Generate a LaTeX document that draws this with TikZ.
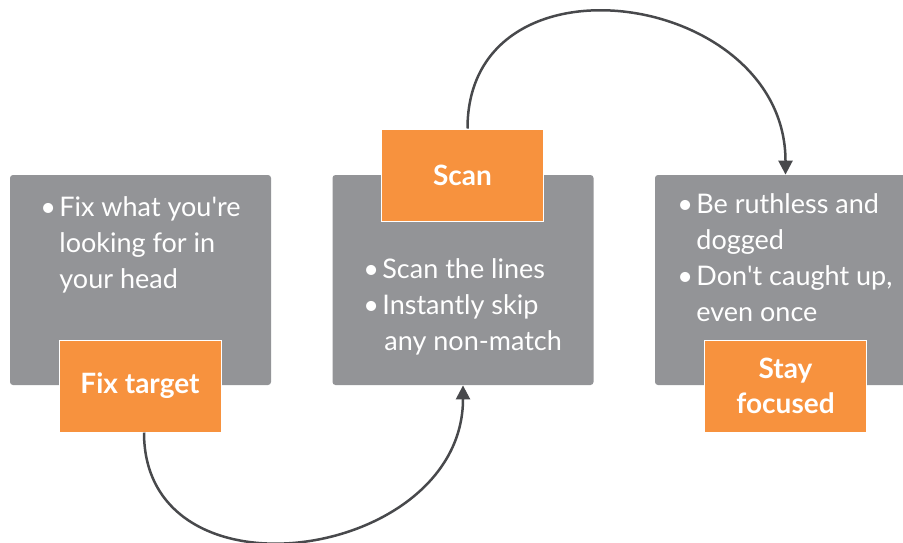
\documentclass[tikz,border=0pt]{standalone}
\usepackage{fontspec}
\setmainfont{Lato}
\usetikzlibrary{arrows.meta}
\definecolor{panelgray}{HTML}{939497}
\definecolor{tagorange}{HTML}{F7923E}
\definecolor{arrowgray}{HTML}{48494C}
\newcommand{\blt}{\makebox[11pt][l]{\hspace{1.5pt}\textbullet}}
\newcommand{\ind}{\hspace*{11pt}}

\begin{document}
\begin{tikzpicture}[x=0.5pt,y=-0.5pt,
    panel/.style={fill=panelgray, rounded corners=1.5pt, minimum width=130.5pt, minimum height=105pt},
    tag/.style={fill=tagorange, draw=white, line width=0.5pt, minimum width=81pt, minimum height=46pt,
      text=white, font=\fontsize{14}{17.5}\selectfont\bfseries, align=center},
    bullets/.style={anchor=north west, inner sep=0pt, text=white, align=left,
      font=\fontsize{13.5}{18}\selectfont},
    flow/.style={draw=arrowgray, line width=1.25pt, -{Triangle[width=7pt,length=7pt]}}]
    \useasboundingbox (0,0) rectangle (903,542);
    \foreach \n/\x in {1/140.5,2/463,3/785.5} \node[panel] (p\n) at (\x,280) {};
    \node[bullets] (b1) at (37,196) {\blt Fix what you\textquotesingle re\\ \ind looking for in\\ \ind your head};
    \node[bullets] (b2) at (360,258) {\blt Scan the lines\\ \blt Instantly skip\\ \ind\hspace{1pt}any non-match};
    \node[bullets] (b3) at (674,193) {\blt Be ruthless and\\ \ind dogged\\ \blt Don\textquotesingle t caught up,\\ \ind even once};
    \node[tag] (t1) at (140,386) {Fix target};
    \node[tag] (t2) at (462.5,175) {Scan};
    \node[tag] (t3) at (785.5,386) {Stay\\focused};
    \draw[flow] ([xshift=2pt]t1.south) .. controls +(0,175) and +(0,175) .. (p2.south);
    \draw[flow] ([xshift=2.5pt]t2.north) .. controls +(0,-184) and +(0,-184) .. (p3.north);
\end{tikzpicture}
\end{document}
